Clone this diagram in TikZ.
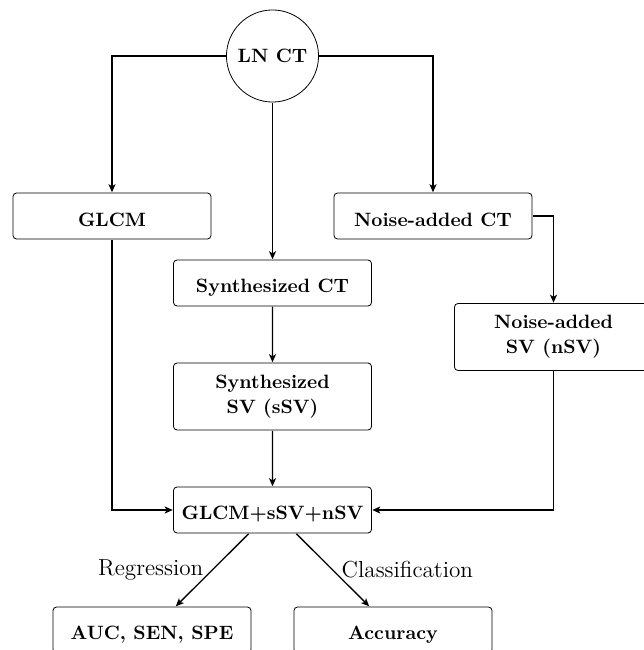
\documentclass[tikz,border=0pt]{standalone}
\usetikzlibrary{arrows.meta}
\begin{document}
\begin{tikzpicture}[x=1pt,y=-1pt,
  box/.style={draw,line width=0.8pt,scale=1.93,rounded corners=3.5pt,minimum width=102.6pt,minimum height=23.8pt,align=center,font=\fontsize{10}{13}\selectfont\bfseries,execute at begin node={\rule{0pt}{11.5pt}}},
  tallbox/.style={box,minimum height=34.7pt},
  conn/.style={line width=1.3pt,-{Stealth[length=8pt,width=7pt,inset=2pt]}},
  lbl/.style={scale=1.93,font=\large,inner sep=4pt}]
\useasboundingbox (0,0) rectangle (643,650);
\node[draw,circle,line width=0.8pt,scale=1.93,minimum size=47.7pt,inner sep=0pt,font=\normalsize\bfseries] (ln) at (272.5,56) {LN CT};
\node[box] (glcm) at (112,216) {GLCM};
\node[box] (nct) at (433,216) {Noise-added CT};
\node[box] (sct) at (272.5,283) {Synthesized CT};
\node[tallbox] (ssv) at (272.5,396.5) {Synthesized\\SV (sSV)};
\node[tallbox] (nsv) at (553.5,337) {Noise-added\\SV (nSV)};
\node[box] (comb) at (272.5,510) {GLCM+sSV+nSV};
\node[box] (auc) at (152,630) {AUC, SEN, SPE};
\node[box] (acc) at (393,630) {Accuracy};
\draw[conn] (ln.west) -| (glcm.north);
\draw[conn] (ln.east) -| (nct.north);
\draw[conn] (ln.south) -- (sct.north);
\draw[conn] (nct.east) -| (nsv.north);
\draw[conn] (sct) -- (ssv);
\draw[conn] (ssv) -- (comb);
\draw[conn] (glcm.south) |- (comb.west);
\draw[conn] (nsv.south) |- (comb.east);
\draw[conn] (comb) -- node[lbl,midway,left] {Regression} (auc);
\draw[conn] (comb) -- node[lbl,midway,right] {Classification} (acc);
\end{tikzpicture}
\end{document}
